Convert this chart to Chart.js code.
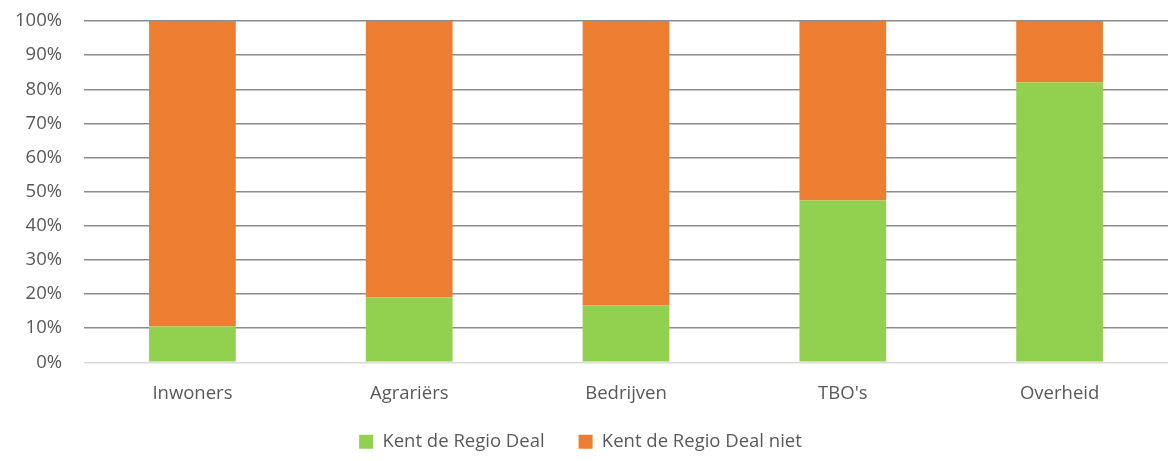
<!DOCTYPE html>
<html>
<head>
<meta charset="utf-8">
<script src="https://cdn.jsdelivr.net/npm/chart.js"></script>
<style>
  html, body { margin: 0; padding: 0; background: #fff; }
  #wrap { width: 1168px; height: 461px; }
</style>
</head>
<body>
<div id="wrap"><canvas id="chart"></canvas></div>
<script>
const categories = ["Inwoners", "Agrariërs", "Bedrijven", "TBO's", "Overheid"];
const kentWel = [10.5, 19.0, 16.7, 47.4, 82.0];
const kentNiet = [89.5, 81.0, 83.3, 52.6, 18.0];
const yTicks = [0, 10, 20, 30, 40, 50, 60, 70, 80, 90, 100];

const textColor = "#595959";
const font = { family: "'Open Sans', sans-serif", size: 18.5 };
const legendLift = 18;

// legend sits a bit closer to the category labels than its padding would allow
const legendShift = {
  id: "legendShift",
  beforeLayout(chart) {
    const lg = chart.legend;
    if (!lg || lg._shiftPatched) return;
    const fit = lg.fit;
    lg.fit = function () { fit.call(this); this.height -= legendLift; };
    lg._shiftPatched = true;
  },
  afterLayout(chart) {
    chart.legend.top -= legendLift;
    chart.legend.height += legendLift;
  }
};

new Chart(document.getElementById("chart"), {
  type: "bar",
  data: {
    labels: categories,
    datasets: [
      { label: "Kent de Regio Deal", data: kentWel, backgroundColor: "#92D050" },
      { label: "Kent de Regio Deal niet", data: kentNiet, backgroundColor: "#ED7D31" }
    ]
  },
  plugins: [legendShift],
  options: {
    responsive: true,
    maintainAspectRatio: false,
    animation: false,
    layout: { padding: { top: 21, right: 0, bottom: 0, left: -7 } },
    datasets: { bar: { categoryPercentage: 1, barPercentage: 0.4 } },
    plugins: {
      tooltip: { enabled: false },
      legend: {
        position: "bottom",
        labels: {
          color: textColor,
          font: font,
          boxWidth: 14,
          boxHeight: 14,
          padding: 34
        }
      }
    },
    scales: {
      x: {
        stacked: true,
        grid: { display: false },
        border: { color: "#d9d9d9", width: 1 },
        ticks: { color: textColor, font: font, padding: 12 }
      },
      y: {
        stacked: true,
        min: 0,
        max: 100,
        afterBuildTicks: axis => { axis.ticks = yTicks.map(v => ({ value: v })); },
        afterFit: axis => { axis.paddingTop = 0; axis.paddingBottom = 0; },
        grid: {
          color: ctx => ctx.tick.value === 0 ? "#d9d9d9" : "#8c8c8c",
          lineWidth: 1.5,
          drawTicks: false
        },
        border: { display: false },
        ticks: {
          color: textColor,
          font: font,
          padding: 22,
          callback: v => v + "%"
        }
      }
    }
  }
});
</script>
</body>
</html>
